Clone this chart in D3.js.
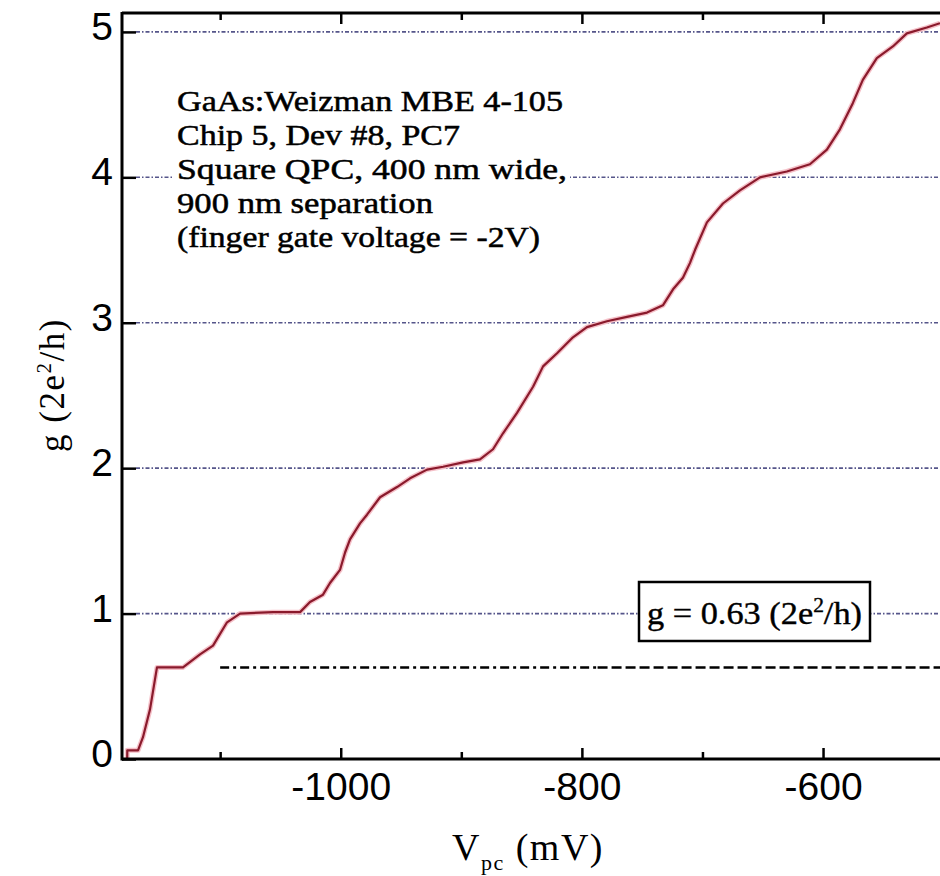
<!DOCTYPE html>
<html><head><meta charset="utf-8">
<script src="https://cdn.jsdelivr.net/npm/d3@7"></script>
<style>body{margin:0;background:#fff}svg{display:block}</style>
</head><body>
<svg id="c" width="940" height="876"></svg>
<script>
// ---- data ----
const voltage = [-1177.1,-1177,-1168.1,-1164,-1158.2,-1152.4,-1130.8,-1116.7,-1105.9,-1094.3,-1083.5,-1056.1,-1033.7,
  -1025.5,-1014.7,-1008.9,-1000.6,-996.4,-992.3,-984,-978.2,-967.4,-953.3,-942.5,-928.4,-915.1,-898.5,-884.5,
  -873.7,-865.4,-853.8,-840.5,-832.2,-820.6,-807.4,-795.8,-779.2,-762.6,-746,-732.8,-724.4,-716.2,-710.4,-706.2,
  -696.3,-683,-668.9,-652.3,-630,-610.9,-596.8,-586,-575.3,-567,-555.4,-542.1,-530.5,-513.9,-503];
const conductance = [0,0.06,0.06,0.15,0.34,0.63,0.63,0.72,0.78,0.94,1.00,1.01,1.01,
  1.08,1.13,1.21,1.30,1.42,1.51,1.62,1.68,1.80,1.87,1.93,1.99,2.01,2.04,2.06,
  2.13,2.24,2.38,2.56,2.70,2.79,2.90,2.97,3.01,3.04,3.07,3.12,3.23,3.31,3.41,3.50,
  3.69,3.82,3.91,4.00,4.04,4.09,4.19,4.33,4.51,4.67,4.82,4.90,4.99,5.03,5.06];
const yTicks = [0,1,2,3,4,5];
const xMajorTicks = [-1000,-800,-600];
const xMinorTicks = [-1100,-900,-700];
const plateauLevels = [1,2,3,4,5];
const markerLevel = 0.63;
const markerStart = -1100;
const markerSwitch = -787;
const xDomain = [-1181.4,-503];
const yDomain = [0,5.13];
const infoLines = ["GaAs:Weizman MBE 4-105","Chip 5, Dev #8, PC7","Square QPC, 400 nm wide,","900 nm separation","(finger gate voltage = -2V)"];
const infoWidths = [386,283,390,256,363];

// ---- layout ----
const svg = d3.select("#c");
const L = 122, R = 940, T = 13, B = 759;
const x = d3.scaleLinear().domain(xDomain).range([L,R]);
const y = d3.scaleLinear().domain(yDomain).range([B,T]);
const serif = "'Liberation Serif','Times New Roman',serif";
const sans = "'Liberation Sans',Arial,sans-serif";

svg.append("rect").attr("width",940).attr("height",876).attr("fill","#fff");

// plateau grid lines
svg.append("g").selectAll("line").data(plateauLevels).join("line")
  .attr("x1",L+14).attr("x2",R).attr("y1",d=>y(d)).attr("y2",d=>y(d))
  .attr("stroke","#55558a").attr("stroke-width",1.6).attr("stroke-dasharray","4,2,1.5,2");

// marker line at g = 0.63
svg.append("line").attr("x1",x(markerStart)).attr("x2",x(markerSwitch))
  .attr("y1",y(markerLevel)).attr("y2",y(markerLevel))
  .attr("stroke","#000").attr("stroke-width",2.5).attr("stroke-dasharray","9,4,3,4");
svg.append("line").attr("x1",x(markerSwitch)).attr("x2",R)
  .attr("y1",y(markerLevel)).attr("y2",y(markerLevel))
  .attr("stroke","#000").attr("stroke-width",2.5).attr("stroke-dasharray","10,4");

// curve
const pts = voltage.map((v,i)=>[v,conductance[i]]);
const line = d3.line().x(d=>x(d[0])).y(d=>y(d[1]));
svg.append("path").datum(pts).attr("d",line).attr("fill","none")
  .attr("stroke","#f5c0c8").attr("stroke-width",5).attr("stroke-linejoin","round");
svg.append("path").datum(pts).attr("d",line).attr("fill","none")
  .attr("stroke","#8a1a2c").attr("stroke-width",2.2).attr("stroke-linejoin","round");

// info text block
svg.append("rect").attr("x",174).attr("y",82).attr("width",396).attr("height",175).attr("fill","#fff");
svg.append("g").selectAll("text").data(infoLines).join("text")
  .attr("x",177).attr("y",(d,i)=>111+i*34)
  .attr("textLength",(d,i)=>infoWidths[i]).attr("lengthAdjust","spacingAndGlyphs")
  .attr("font-family",serif).attr("font-size",29).attr("fill","#000")
  .attr("stroke","#000").attr("stroke-width",0.5).text(d=>d);

// value box
svg.append("rect").attr("x",639).attr("y",582).attr("width",231).attr("height",59)
  .attr("fill","#fff").attr("stroke","#000").attr("stroke-width",2.5);
const bt = svg.append("text").attr("x",647).attr("y",624).attr("font-family",serif)
  .attr("font-size",32).attr("fill","#000").attr("stroke","#000").attr("stroke-width",0.4)
  .attr("textLength",215).attr("lengthAdjust","spacingAndGlyphs");
bt.append("tspan").text("g = 0.63 (2e");
bt.append("tspan").attr("dy",-12).attr("font-size",20).text("2");
bt.append("tspan").attr("dy",12).text("/h)");

// axes
const fmt = d=>String(d);
const gx = svg.append("g").attr("transform",`translate(0,${B})`)
  .call(d3.axisBottom(x).tickValues(xMajorTicks).tickSize(-11).tickPadding(13).tickFormat(fmt));
gx.select(".domain").remove();
gx.selectAll("text").attr("font-family",sans).attr("font-size",39).attr("fill","#000");
gx.selectAll("line").attr("stroke","#000").attr("stroke-width",2.5);
const gxm = svg.append("g").attr("transform",`translate(0,${B})`)
  .call(d3.axisBottom(x).tickValues(xMinorTicks).tickSize(-7).tickFormat(""));
gxm.select(".domain").remove();
gxm.selectAll("line").attr("stroke","#000").attr("stroke-width",2.5);

const gt = svg.append("g").attr("transform",`translate(0,${T})`)
  .call(d3.axisTop(x).tickValues(xMajorTicks).tickSize(-11).tickFormat(""));
gt.select(".domain").remove();
gt.selectAll("line").attr("stroke","#000").attr("stroke-width",2.5);
const gtm = svg.append("g").attr("transform",`translate(0,${T})`)
  .call(d3.axisTop(x).tickValues(xMinorTicks).tickSize(-7).tickFormat(""));
gtm.select(".domain").remove();
gtm.selectAll("line").attr("stroke","#000").attr("stroke-width",2.5);

const gy = svg.append("g").attr("transform",`translate(${L},0)`)
  .call(d3.axisLeft(y).tickValues(yTicks).tickSize(-14).tickPadding(9).tickFormat(fmt));
gy.select(".domain").remove();
gy.selectAll("text").attr("font-family",sans).attr("font-size",39).attr("fill","#000").attr("dy","0.19em");
gy.selectAll("line").attr("stroke","#000").attr("stroke-width",2.5);

// frame lines
svg.append("line").attr("x1",L).attr("x2",L).attr("y1",T-1).attr("y2",B+1.5).attr("stroke","#000").attr("stroke-width",3);
svg.append("line").attr("x1",L).attr("x2",R).attr("y1",B).attr("y2",B).attr("stroke","#000").attr("stroke-width",3);
svg.append("line").attr("x1",L).attr("x2",R).attr("y1",T).attr("y2",T).attr("stroke","#000").attr("stroke-width",3);

// axis titles
const xl = svg.append("text").attr("x",452).attr("y",860).attr("font-family",serif)
  .attr("font-size",38).attr("fill","#000").attr("letter-spacing",1.5);
xl.append("tspan").text("V");
xl.append("tspan").attr("dy",10).attr("font-size",22).text("pc");
xl.append("tspan").attr("dy",-10).text(" (mV)");

const yl = svg.append("text").attr("transform","translate(64,385) rotate(-90)")
  .attr("text-anchor","middle").attr("font-family",serif).attr("font-size",35).attr("fill","#000")
  .attr("letter-spacing",1.5);
yl.append("tspan").text("g (2e");
yl.append("tspan").attr("dy",-13).attr("font-size",21).text("2");
yl.append("tspan").attr("dy",13).text("/h)");
</script>
</body></html>
